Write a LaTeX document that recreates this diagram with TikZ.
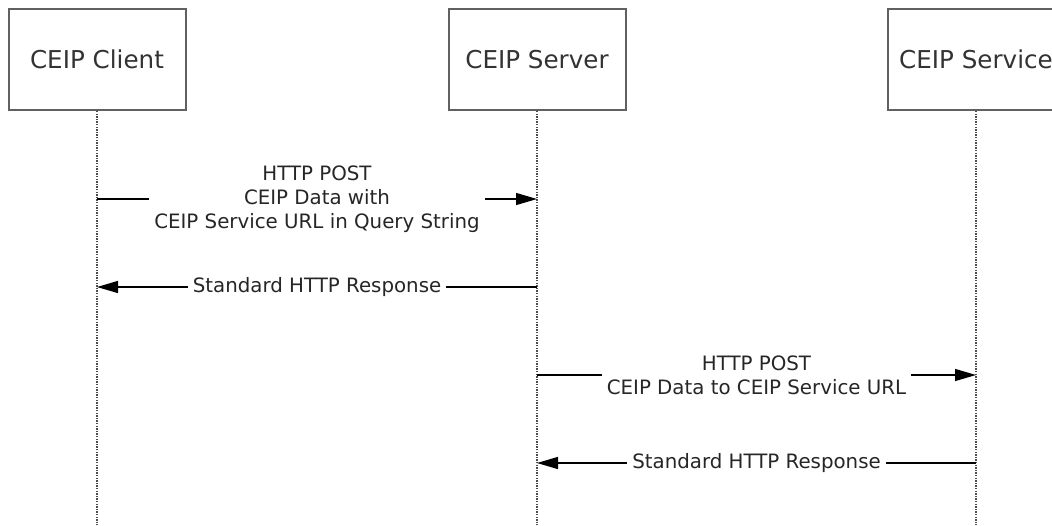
\documentclass[tikz,border=0pt]{standalone}
\usepackage{fontspec}
\setmainfont{DejaVu Sans}
\usetikzlibrary{arrows.meta}
\tikzset{
  actor/.style={draw=black!62, line width=2pt, fill=white,
    minimum width=177pt, minimum height=101pt,
    font=\fontsize{24.6}{29}\selectfont, text=black!80},
  lifeline/.style={black!70, line width=1.2pt, dash pattern=on 1.3pt off 1.3pt},
  msg/.style={-{Triangle[length=21pt,width=12pt]}, line width=1.3pt},
  msglabel/.style={fill=white, inner sep=5pt, align=center,
    font=\fontsize{19.8}{24}\selectfont, text=black!85}
}
\begin{document}
\begin{tikzpicture}[x=1pt, y=-1pt]
    \clip (0,0) rectangle (1052,525);
    % Participants
    \node[actor] (client) at (97,59.5) {CEIP Client};
    \node[actor] (server) at (537,59.5) {CEIP Server};
    \node[actor] (service) at (976,59.5) {CEIP Service};
    % Lifelines
    \coordinate (client-end) at (97,525);
    \coordinate (server-end) at (537,525);
    \coordinate (service-end) at (976,525);
    \draw[lifeline] (client.south) -- (client-end);
    \draw[lifeline] (server.south) -- (server-end);
    \draw[lifeline] (service.south) -- (service-end);
    % Message points
    \coordinate (c1) at (97,199);
    \coordinate (s1) at (537,199);
    \coordinate (c2) at (97,287);
    \coordinate (s2) at (537,287);
    \coordinate (s3) at (537,375);
    \coordinate (v3) at (976,375);
    \coordinate (s4) at (537,463);
    \coordinate (v4) at (976,463);
    % Client to server
    \draw[msg] (c1) -- node[msglabel] {HTTP POST\\CEIP Data with\\CEIP Service URL in Query String} (s1);
    \draw[msg] (s2) -- node[msglabel] {Standard HTTP Response} (c2);
    % Server to service
    \draw[msg] (s3) -- node[msglabel] {HTTP POST\\CEIP Data to CEIP Service URL} (v3);
    \draw[msg] (v4) -- node[msglabel] {Standard HTTP Response} (s4);
\end{tikzpicture}
\end{document}
